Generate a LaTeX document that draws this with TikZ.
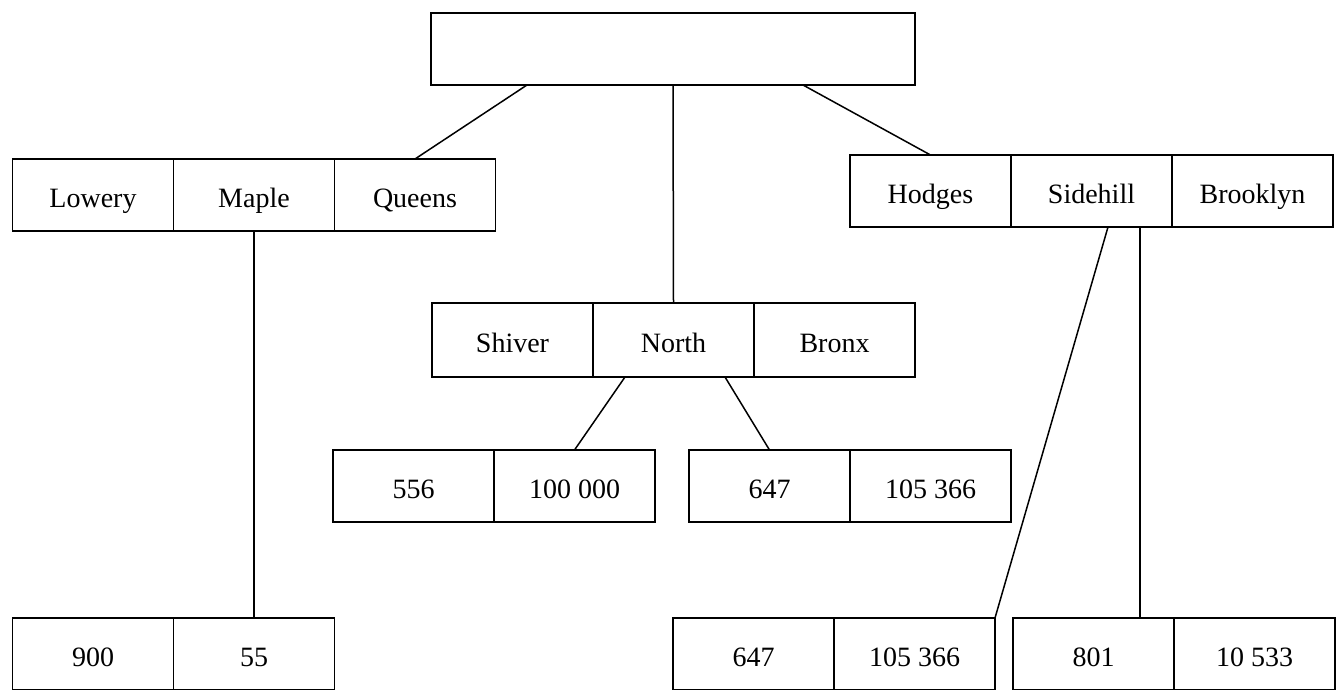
\documentclass[tikz,border=0pt]{standalone}
\usepackage{fontspec}
\setmainfont{Liberation Serif}
\usetikzlibrary{positioning}

\tikzset{
  cell/.style={draw, line width=0.9pt, minimum width=80.5pt, minimum height=36pt,
    inner sep=0pt, outer sep=0pt, text height=3ex, text depth=0.3ex,
    font=\fontsize{14}{16}\selectfont},
  link/.style={line width=0.75pt}
}

\begin{document}
\begin{tikzpicture}[x=0.5pt,y=-0.5pt]
  \useasboundingbox (0,0) rectangle (1339,690);

  % root
  \node[cell, minimum width=242pt, anchor=north west] (root) at (431,13) {};

  % second level
  \node[cell, anchor=north west] (lowery) at (12.5,159) {Lowery};
  \node[cell, right=0pt of lowery] (maple) {Maple};
  \node[cell, right=0pt of maple] (queens) {Queens};

  \node[cell, anchor=north west] (hodges) at (850,155) {Hodges};
  \node[cell, right=0pt of hodges] (sidehill) {Sidehill};
  \node[cell, right=0pt of sidehill] (brooklyn) {Brooklyn};

  \node[cell, minimum height=37pt, anchor=north west] (shiver) at (432,303) {Shiver};
  \node[cell, minimum height=37pt, right=0pt of shiver] (north) {North};
  \node[cell, minimum height=37pt, right=0pt of north] (bronx) {Bronx};

  % leaves under North
  \node[cell, anchor=north west] (n556) at (333,450) {556};
  \node[cell, right=0pt of n556] (n100k) {100 000};
  \node[cell, anchor=north west] (n647a) at (689,450) {647};
  \node[cell, right=0pt of n647a] (n105a) {105 366};

  % bottom leaves
  \node[cell, anchor=north west] (n900) at (12.5,618) {900};
  \node[cell, right=0pt of n900] (n55) {55};
  \node[cell, anchor=north west] (n647b) at (673,618) {647};
  \node[cell, right=0pt of n647b] (n105b) {105 366};
  \node[cell, anchor=north west] (n801) at (1013,618) {801};
  \node[cell, right=0pt of n801] (n10k) {10 533};

  % links
  \draw[link] ([xshift=48pt]root.south west) -- (queens.north);
  \draw[link] (root.south) -- (north.north);
  \draw[link] ([xshift=-56pt]root.south east) -- (hodges.north);
  \draw[link] (maple.south) -- (n55.north);
  \draw[link] ([xshift=16pt]north.south west) -- (n100k.north);
  \draw[link] ([xshift=-14.5pt]north.south east) -- (n647a.north);
  \draw[link] ([xshift=-32pt]sidehill.south east) -- (n105b.north east);
  \draw[link] ([xshift=-16pt]sidehill.south east) coordinate (sd) -- (sd |- n801.north);
\end{tikzpicture}
\end{document}
